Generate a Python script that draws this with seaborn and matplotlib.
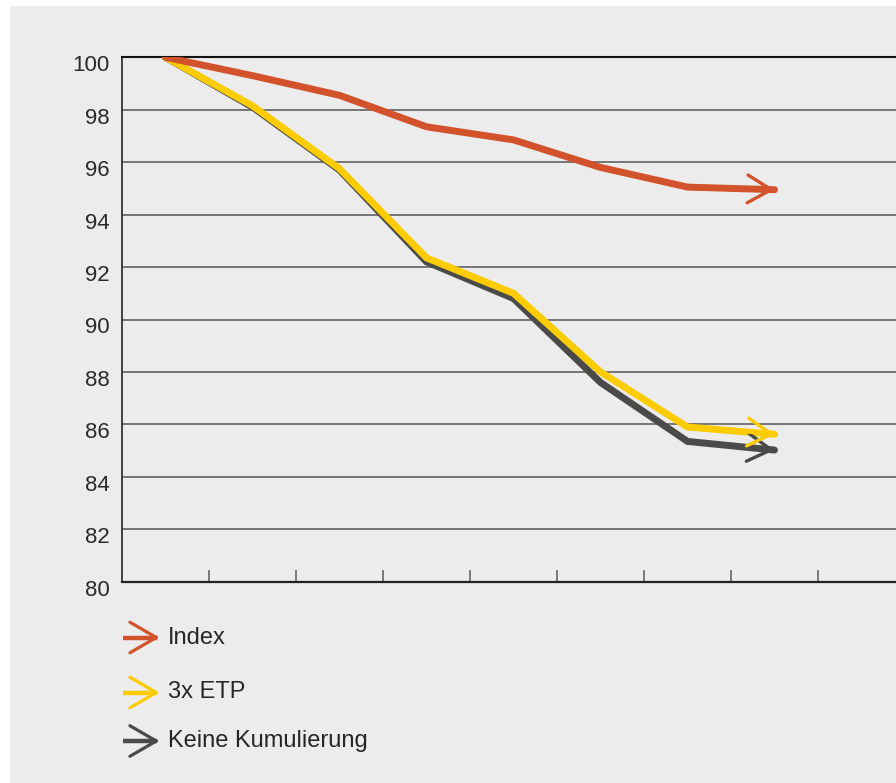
import numpy as np
import pandas as pd
import seaborn as sns
import matplotlib
matplotlib.use("Agg")
import matplotlib.pyplot as plt
from matplotlib.transforms import ScaledTranslation
from matplotlib.patches import Rectangle
from matplotlib.lines import Line2D

# ---- data ----
steps = [0, 1, 2, 3, 4, 5, 6, 7]
index_vals = [100.0, 99.3, 98.55, 97.35, 96.85, 95.8, 95.05, 94.95]
etp_vals = [100.0, 98.15, 95.75, 92.35, 91.0, 88.0, 85.9, 85.62]
keine_vals = [100.0, 98.1, 95.7, 92.2, 90.8, 87.6, 85.35, 85.02]
series_names = ["Keine Kumulierung", "3x ETP", "Index"]
legend_order = ["Index", "3x ETP", "Keine Kumulierung"]
y_ticks = [80, 82, 84, 86, 88, 90, 92, 94, 96, 98, 100]

colors = {"Index": "#d2522b", "3x ETP": "#fccb00", "Keine Kumulierung": "#4a4a48"}
values = {"Index": index_vals, "3x ETP": etp_vals, "Keine Kumulierung": keine_vals}

df = pd.concat(
    [pd.DataFrame({"step": steps, "value": values[n], "series": n}) for n in series_names],
    ignore_index=True,
)

sns.set_theme(style="white")
plt.rcParams["font.family"] = ["Liberation Sans", "DejaVu Sans"]

W, H = 896, 783
fig = plt.figure(figsize=(W / 100, H / 100), dpi=100, facecolor="white")
bg = "#ececec"
fig.add_artist(Rectangle((10 / W, 0), 1 - 10 / W, 1 - 6 / H, transform=fig.transFigure,
                         facecolor=bg, edgecolor="none", zorder=0))

ax = fig.add_axes([122 / W, 1 - 581.7 / H, (905 - 122) / W, (581.7 - 57.3) / H])
ax.set_facecolor(bg)

for name in series_names:
    sub = df[df.series == name]
    sns.lineplot(data=sub, x="step", y="value", ax=ax, color=colors[name],
                 linewidth=5.0, solid_capstyle="round", solid_joinstyle="miter",
                 legend=False, zorder=3, sort=False)

# arrow heads on the last segment of each series
for name in series_names:
    v = values[name]
    x1, y1 = steps[-1], v[-1]
    x0, y0 = (steps[-2] + steps[-1]) / 2, (v[-2] + v[-1]) / 2
    ax.annotate("", xy=(x1, y1), xytext=(x0, y0),
                arrowprops=dict(arrowstyle="->,head_length=17,head_width=10",
                                mutation_scale=1, lw=2.4, color=colors[name],
                                shrinkA=0, shrinkB=0, capstyle="round",
                                joinstyle="miter"),
                zorder=4)

ax.set_xlim(-0.5, 8.5)
ax.set_ylim(80, 100)
ax.set_yticks(y_ticks)
ax.set_yticklabels([str(t) for t in y_ticks])
ax.set_xticks([s + 0.5 for s in range(8)])
ax.set_xticklabels([])
ax.set_xlabel("")
ax.set_ylabel("")

ax.grid(axis="y", color="#555555", linewidth=1.1, zorder=1)
ax.grid(axis="x", visible=False)
ax.set_axisbelow(True)

ax.spines["right"].set_visible(False)
ax.spines["top"].set_color("#111111")
ax.spines["top"].set_linewidth(1.5)
ax.spines["left"].set_color("#333333")
ax.spines["left"].set_linewidth(1.3)
ax.spines["bottom"].set_color("#222222")
ax.spines["bottom"].set_linewidth(1.6)

ax.tick_params(axis="x", direction="in", length=9, width=1.2, color="#666666", bottom=True)
ax.tick_params(axis="y", length=0, pad=9, labelsize=16, labelcolor="#2a2a2a")
off = ScaledTranslation(0, -0.06, fig.dpi_scale_trans)
for lab in ax.get_yticklabels():
    lab.set_transform(lab.get_transform() + off)

# legend built from arrow glyphs + text (figure pixel layout)
leg_y = [637.5, 692.5, 741]
for name, yy in zip(legend_order, leg_y):
    yp = H - yy
    fig.add_artist(Line2D([123 / W, 157 / W], [yp / H, yp / H], transform=fig.transFigure,
                          color=colors[name], linewidth=3.2, solid_capstyle="butt"))
    ax.annotate("", xy=(159.5, yp), xytext=(140, yp), xycoords="figure pixels",
                textcoords="figure pixels", annotation_clip=False,
                arrowprops=dict(arrowstyle="->,head_length=19,head_width=11",
                                mutation_scale=1, lw=2.3, color=colors[name],
                                shrinkA=0, shrinkB=0, capstyle="round"))
    fig.text(168 / W, yp / H, name, ha="left", va="center", fontsize=17,
             color="#262626")

fig.savefig("out.png", dpi=100, facecolor=fig.get_facecolor())
